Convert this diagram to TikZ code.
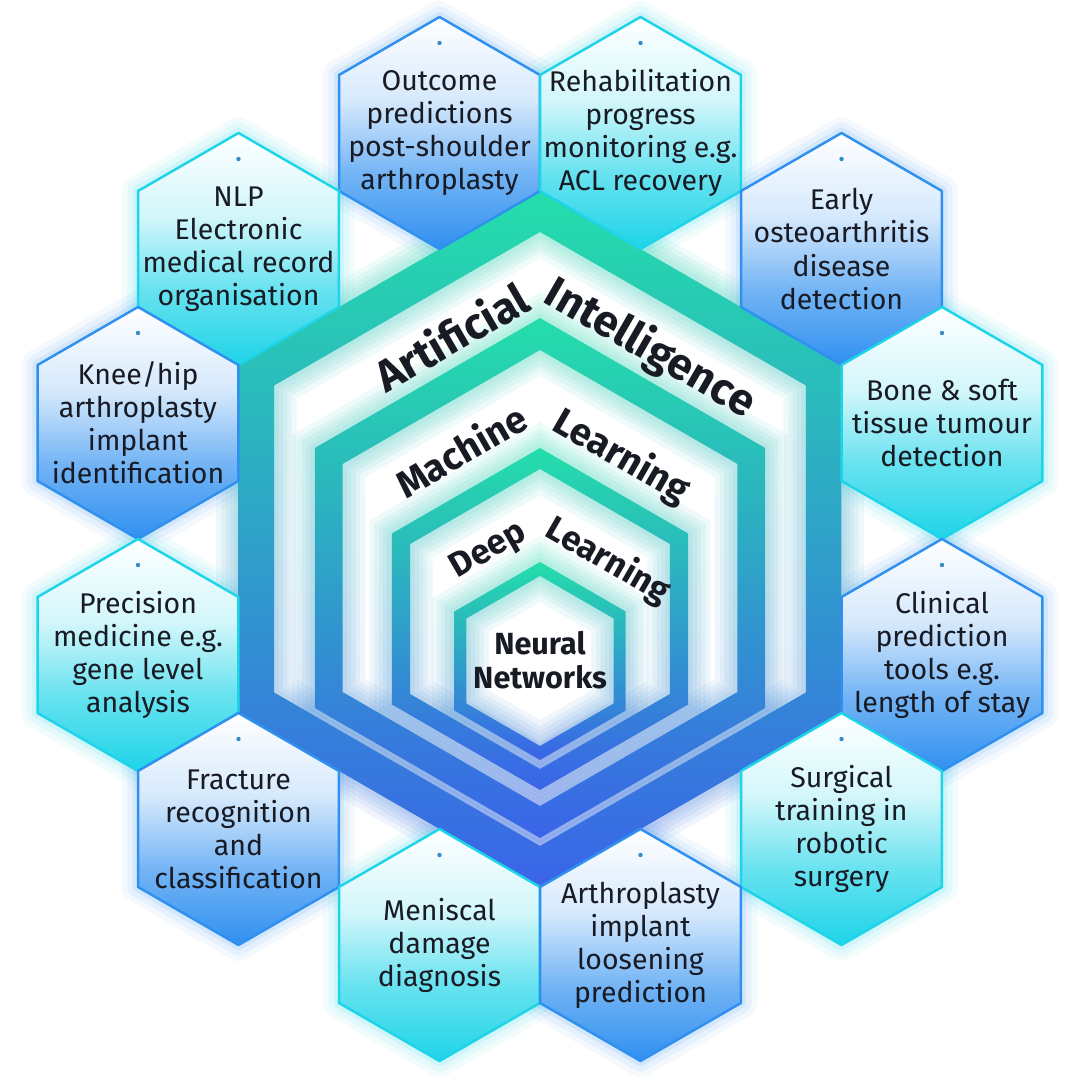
\documentclass[tikz,border=0pt]{standalone}
\usepackage{fontspec}
\setmainfont{Fira Sans}

\definecolor{tealc}{RGB}{36,222,170}
\definecolor{bluec}{RGB}{58,100,232}
\definecolor{cyanb}{RGB}{30,212,232}
\definecolor{blueb}{RGB}{48,144,240}
\definecolor{inkc}{RGB}{24,26,36}
\definecolor{dotc}{RGB}{50,140,200}
\colorlet{cyanmid}{cyanb!68!white}
\colorlet{cyanpale}{cyanb!20!white}
\colorlet{bluemid}{blueb!68!white}
\colorlet{bluepale}{blueb!20!white}

% white above, colour gathered at the bottom
\pgfdeclareverticalshading{cellcyan}{100bp}{color(0bp)=(cyanb); color(25bp)=(cyanb); color(41bp)=(cyanmid); color(57bp)=(cyanpale); color(75bp)=(white); color(100bp)=(white)}
\pgfdeclareverticalshading{cellblue}{100bp}{color(0bp)=(blueb); color(25bp)=(blueb); color(41bp)=(bluemid); color(57bp)=(bluepale); color(75bp)=(white); color(100bp)=(white)}

% pointy-top hexagon: centre (#1,#2), corner radius #3
\newcommand{\hexpath}[3]{(#1,#2) ++(0,#3) -- ++(-30:#3) -- ++(-90:#3) -- ++(-150:#3) -- ++(150:#3) -- ++(90:#3) -- cycle}

\tikzset
{
    band/.style = {even odd rule, top color=tealc, bottom color=bluec},
    cyancell/.style = {draw=cyanb, line width=0.7pt, line join=round, shading=cellcyan},
    bluecell/.style = {draw=blueb, line width=0.7pt, line join=round, shading=cellblue},
    celltext/.style = {align=center, text=inkc, inner sep=0pt, font=\fontsize{8.1}{9.4}\selectfont},
    layertext/.style = {text=inkc, inner sep=0pt, font=\bfseries\fontsize{#1}{#1}\selectfont}
}

% one outer cell with its label
\newcommand{\cell}[5]{%
  \shade[#4cell] \hexpath{#2}{#3}{116};
  \node[celltext] (#1) at (#2,#3) {#5};
}

\begin{document}
\begin{tikzpicture}[x=0.01cm, y=0.01cm]
\useasboundingbox (-540,-541) rectangle (540,539);
\fill[white] (-540,-541) rectangle (540,539);

% halo round the outer cells
\foreach \cx/\cy/\col in {-100.5/406/blueb, 100.5/406/cyanb, -301.5/290/cyanb, 301.5/290/blueb,
    -402/116/blueb, 402/116/cyanb, -402/-116/cyanb, 402/-116/blueb,
    -301.5/-290/blueb, 301.5/-290/cyanb, -100.5/-406/cyanb, 100.5/-406/blueb}
{
  \foreach \w/\o in {9/0.05, 6/0.07, 3/0.1}
    \draw[\col, line width=\w pt, draw opacity=\o, line join=round] \hexpath{\cx}{\cy}{116};
}

% nested layers
\fill[white] \hexpath{0}{0}{348};
\foreach \cy/\ro/\ri in {0/348/307, -39/260/228, -80/171/150, -122/99/85}
{
  \foreach \g in {5,10,15,20,26}
    \shade[band, fill opacity=0.08] \hexpath{0}{\cy}{\ro+\g} \hexpath{0}{\cy}{\ri-\g};
}
\foreach \cy/\ro/\ri in {0/348/307, -39/260/228, -80/171/150, -122/99/85}
  \shade[band] \hexpath{0}{\cy}{\ro} \hexpath{0}{\cy}{\ri};

% outer cells
\cell{outcome}{-100.5}{406}{blue}{Outcome\\predictions\\post-shoulder\\arthroplasty}
\cell{rehab}{100.5}{406}{cyan}{Rehabilitation\\progress\\monitoring e.g.\\ACL recovery}
\cell{nlp}{-301.5}{290}{cyan}{NLP\\Electronic\\medical record\\organisation}
\cell{early}{301.5}{290}{blue}{Early\\osteoarthritis\\disease\\detection}
\cell{knee}{-402}{116}{blue}{Knee/hip\\arthroplasty\\implant\\identification}
\cell{bone}{402}{116}{cyan}{Bone \& soft\\tissue tumour\\detection}
\cell{precision}{-402}{-116}{cyan}{Precision\\medicine e.g.\\gene level\\analysis}
\cell{clinical}{402}{-116}{blue}{Clinical\\prediction\\tools e.g.\\length of stay}
\cell{fracture}{-301.5}{-290}{blue}{Fracture\\recognition\\and\\classification}
\cell{surgical}{301.5}{-290}{cyan}{Surgical\\training in\\robotic\\surgery}
\cell{meniscal}{-100.5}{-406}{cyan}{Meniscal\\damage\\diagnosis}
\cell{loosening}{100.5}{-406}{blue}{Arthroplasty\\implant\\loosening\\prediction}

% layer names
\node[layertext=12.5, rotate=30] (artificial) at (-89,203) {Artificial};
\node[layertext=12.5, rotate=-30] (intelligence) at (110,190) {Intelligence};
\node[layertext=10.8, rotate=30] (machine) at (-79,89) {Machine};
\node[layertext=10.8, rotate=-30] (mlearning) at (81,82) {Learning};
\node[layertext=9.8, rotate=30] (deep) at (-51,-12) {Deep};
\node[layertext=9.8, rotate=-30] (dlearning) at (68,-22) {Learning};
\node[layertext=8.7, align=center, font=\bfseries\fontsize{8.7}{9.6}\selectfont] (neural) at (0,-121) {Neural\\Networks};

% small dots near the top of each cell
\foreach \cx/\cy in {-100.5/406, 100.5/406, -301.5/290, 301.5/290, -402/116, 402/116,
    -402/-116, 402/-116, -301.5/-290, 301.5/-290, -100.5/-406, 100.5/-406}
  \fill[dotc] (\cx,\cy+90) circle (2.2);
\end{tikzpicture}
\end{document}
